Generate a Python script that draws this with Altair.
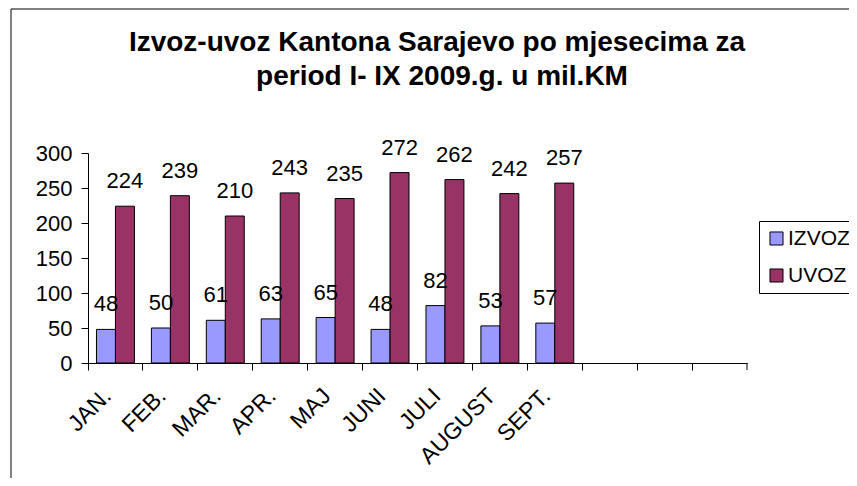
import altair as alt
import pandas as pd

months = ["JAN.", "FEB.", "MAR.", "APR.", "MAJ", "JUNI", "JULI", "AUGUST", "SEPT."]
empty_slots = [" ", "  ", "   "]
izvoz = [48, 50, 61, 63, 65, 48, 82, 53, 57]
uvoz = [224, 239, 210, 243, 235, 272, 262, 242, 257]
series = ["IZVOZ", "UVOZ"]
colors = ["#9999FF", "#993366"]
title_lines = ["Izvoz-uvoz Kantona Sarajevo po mjesecima za", "period I- IX 2009.g. u mil.KM"]

rows = []
for m, a, b in zip(months, izvoz, uvoz):
    rows.append({"mjesec": m, "serija": "IZVOZ", "vrijednost": a})
    rows.append({"mjesec": m, "serija": "UVOZ", "vrijednost": b})
df = pd.DataFrame(rows)

W, H = 659, 210
FONT = "Liberation Sans"

x_enc = alt.X(
    "mjesec:N",
    scale=alt.Scale(domain=months + empty_slots, paddingInner=0, paddingOuter=0),
    sort=None,
    axis=alt.Axis(
        title=None, bandPosition=0, labelAngle=-45, labelAlign="right",
        labelBaseline="middle", labelPadding=22, labelOffset=-8, labelFontSize=23,
        tickSize=7, tickColor="black", domainColor="black", labelColor="black",
        labelFont=FONT, grid=False,
    ),
)
xoff = alt.XOffset("serija:N", scale=alt.Scale(domain=series, paddingOuter=0.447, paddingInner=0))
y_enc = alt.Y(
    "vrijednost:Q",
    scale=alt.Scale(domain=[0, 300], nice=False),
    axis=alt.Axis(
        title=None, values=[0, 50, 100, 150, 200, 250, 300], tickSize=7,
        labelPadding=9, labelFontSize=22, labelFont=FONT, labelColor="black",
        tickColor="black", domainColor="black", grid=False,
    ),
)

bars = alt.Chart(df).mark_bar(stroke="black", strokeWidth=1).encode(
    x=x_enc, xOffset=xoff, y=y_enc,
    color=alt.Color(
        "serija:N",
        scale=alt.Scale(domain=series, range=colors),
        legend=alt.Legend(
            title=None, orient="none", legendX=671, legendY=68,
            symbolType="square", symbolSize=170, symbolStrokeColor="black",
            symbolStrokeWidth=1, labelFontSize=21, labelFont=FONT,
            labelColor="black", strokeColor="black", fillColor="white",
            padding=7, rowPadding=15, labelOffset=1,
        ),
    ),
)

labels = alt.Chart(df).mark_text(
    baseline="alphabetic", dy=-18, fontSize=22, font=FONT, color="black"
).encode(x=x_enc, xOffset=xoff, y=y_enc, text="vrijednost:Q")

one = pd.DataFrame({"k": [0]})
frame = alt.Chart(one).mark_rect(fill="white", fillOpacity=0, stroke="black", strokeWidth=1).encode(
    x=alt.value(-77), x2=alt.value(1000), y=alt.value(-144), y2=alt.value(600)
)
end_tick = alt.Chart(one).mark_rule(color="black").encode(
    x=alt.value(W), y=alt.value(H), y2=alt.value(H + 7)
)
t1 = alt.Chart(pd.DataFrame({"t": [title_lines[0]]})).mark_text(
    fontSize=28, fontWeight="bold", font=FONT, align="center", baseline="alphabetic", color="black"
).encode(x=alt.value(349), y=alt.value(-102), text="t:N")
t2 = alt.Chart(pd.DataFrame({"t": [title_lines[1]]})).mark_text(
    fontSize=28, fontWeight="bold", font=FONT, align="center", baseline="alphabetic", color="black"
).encode(x=alt.value(354), y=alt.value(-68), text="t:N")

chart = alt.layer(frame, bars, labels, end_tick, t1, t2).properties(
    width=W, height=H,
    background="white",
    autosize=alt.AutoSizeParams(type="none"),
    padding={"left": 80, "top": 145, "right": 102, "bottom": 115},
).configure_view(stroke=None, strokeWidth=0)

chart.save("out.html", embed_options={"renderer": "svg", "actions": False})
